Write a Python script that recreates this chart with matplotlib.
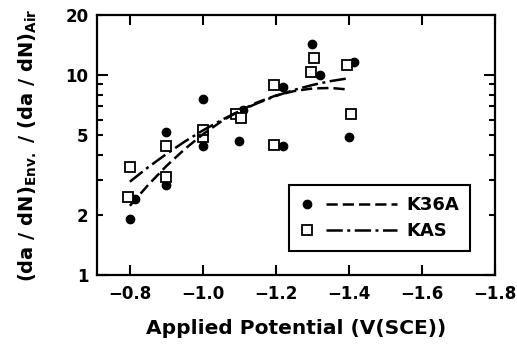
import matplotlib
matplotlib.use("Agg")
import matplotlib.pyplot as plt
from matplotlib.lines import Line2D
from matplotlib.legend_handler import HandlerBase
from matplotlib.ticker import FixedLocator, FixedFormatter

# measured points (potential in V(SCE), ratio of growth rates)
k36a_x = [-0.80, -0.815, -0.90, -0.90, -1.00, -1.00, -1.10, -1.11, -1.22, -1.22, -1.30, -1.32, -1.40, -1.415]
k36a_y = [1.90, 2.40, 2.82, 5.2, 4.4, 7.6, 4.7, 6.7, 4.4, 8.7, 14.3, 10.0, 4.9, 11.7]

kas_x = [-0.795, -0.80, -0.90, -0.90, -1.00, -1.00, -1.09, -1.105, -1.195, -1.195, -1.295, -1.305, -1.395, -1.405]
kas_y = [2.47, 3.46, 3.08, 4.4, 4.9, 5.3, 6.4, 6.1, 4.47, 8.9, 10.4, 12.2, 11.2, 6.4]

# fitted curves
fit_x = [-0.80, -0.85, -0.90, -0.95, -1.00, -1.05, -1.10, -1.15, -1.20, -1.25, -1.30, -1.35, -1.40]
k36a_fit = [2.22, 2.82, 3.51, 4.26, 5.06, 5.86, 6.63, 7.32, 7.91, 8.33, 8.58, 8.63, 8.47]
kas_fit = [2.93, 3.46, 4.03, 4.65, 5.29, 5.95, 6.61, 7.25, 7.87, 8.44, 8.93, 9.34, 9.66]

x_ticks = [-0.8, -1.0, -1.2, -1.4, -1.6, -1.8]


class MarkerLineHandler(HandlerBase):
    # marker on the left, line segment to its right
    def create_artists(self, legend, orig_handle, xdescent, ydescent,
                       width, height, fontsize, trans):
        mk, ln = orig_handle
        y = height / 2 - ydescent
        m = Line2D([-xdescent + 0.07 * width], [y])
        m.update_from(mk)
        m.set_linestyle("none")
        l = Line2D([-xdescent + 0.27 * width, -xdescent + width], [y, y])
        l.update_from(ln)
        l.set_marker("none")
        m.set_transform(trans)
        l.set_transform(trans)
        return [m, l]


plt.rcParams["font.family"] = "DejaVu Sans"
plt.rcParams["font.weight"] = "bold"
plt.rcParams["mathtext.fontset"] = "dejavusans"

fig = plt.figure(figsize=(5.17, 3.46), dpi=100)
ax = fig.add_axes([0.1876, 0.2052, 0.7698, 0.7514])

pts1, = ax.plot(k36a_x, k36a_y, linestyle="none", marker="o", markersize=6,
                color="black")
pts2, = ax.plot(kas_x, kas_y, linestyle="none", marker="s", markersize=6.5,
                markerfacecolor="white", markeredgecolor="black", markeredgewidth=1.3)
fit1, = ax.plot(fit_x, k36a_fit, color="black", linewidth=1.8, dashes=(4.5, 2))
fit2, = ax.plot(fit_x, kas_fit, color="black", linewidth=1.8, dashes=(6.5, 1.8, 1.2, 1.8))

ax.set_xlim(-0.71, -1.8)
ax.set_yscale("log")
ax.set_ylim(1, 20)

ax.set_xticks(x_ticks)
ax.yaxis.set_major_locator(FixedLocator([1, 10]))
ax.yaxis.set_major_formatter(FixedFormatter(["1", "10"]))
ax.yaxis.set_minor_locator(FixedLocator([2, 3, 4, 5, 6, 7, 8, 9, 20]))
ax.yaxis.set_minor_formatter(FixedFormatter(["2", "", "", "5", "", "", "", "", "20"]))

ax.tick_params(which="both", direction="in", top=True, right=True, width=1.5, labelsize=12)
ax.tick_params(axis="x", which="major", length=7, pad=7)
ax.tick_params(axis="y", which="major", length=8, pad=6)
ax.tick_params(axis="y", which="minor", length=4, pad=6)
ax.tick_params(axis="x", which="minor", bottom=False, top=False)

for s in ax.spines.values():
    s.set_linewidth(1.6)

ax.set_xlabel("Applied Potential (V(SCE))", fontsize=14.5, fontweight="bold", labelpad=12)
ax.set_ylabel(r"(da / dN)$_{\mathbf{Env.}}$ / (da / dN)$_{\mathbf{Air}}$",
              fontsize=14, fontweight="bold", labelpad=19)

leg = ax.legend([(pts1, fit1), (pts2, fit2)], ["K36A", "KAS"],
                handler_map={tuple: MarkerLineHandler()},
                loc="lower right", bbox_to_anchor=(0.937, 0.092),
                fontsize=13, frameon=True, fancybox=False, edgecolor="black",
                framealpha=1, handlelength=5.4, handletextpad=0.5,
                borderpad=0.6, labelspacing=0.45, borderaxespad=0)
leg.get_frame().set_linewidth(1.5)

plt.savefig("out.png", dpi=100)
